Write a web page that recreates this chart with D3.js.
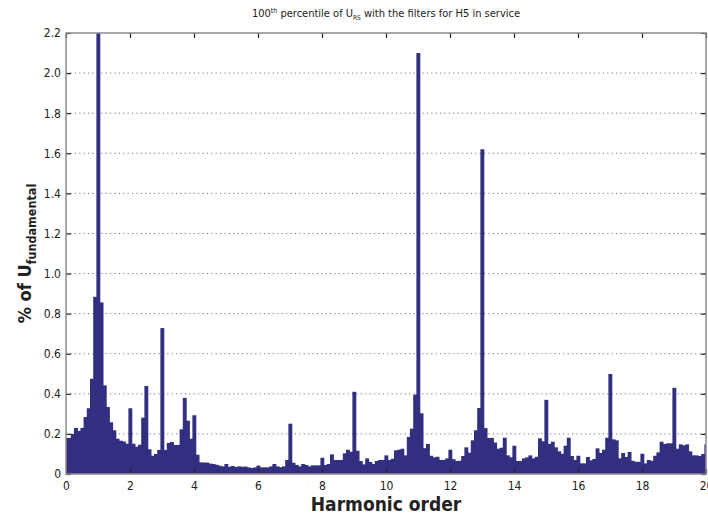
<!DOCTYPE html>
<html>
<head>
<meta charset="utf-8">
<script src="https://cdn.jsdelivr.net/npm/d3@7"></script>
<style>
  body { margin: 0; background: #fff; }
  text { font-family: "Liberation Sans Narrow", "DejaVu Sans Condensed", sans-serif; }
</style>
</head>
<body>
<div id="chartContainer"></div>
<script>
// bar values, one per 0.1 harmonic order, from 0.0 to 20.0
let percent_values = [
  0.18, 0.18, 0.2, 0.23, 0.215, 0.23, 0.284, 0.328, 0.475, 0.884,
  2.2, 0.856, 0.442, 0.334, 0.258, 0.218, 0.176, 0.166, 0.162, 0.151,
  0.328, 0.151, 0.136, 0.146, 0.281, 0.439, 0.123, 0.091, 0.1, 0.12,
  0.728, 0.12, 0.155, 0.16, 0.145, 0.145, 0.223, 0.38, 0.266, 0.176,
  0.293, 0.096, 0.058, 0.057, 0.057, 0.052, 0.05, 0.046, 0.041, 0.038,
  0.05, 0.036, 0.04, 0.035, 0.038, 0.036, 0.037, 0.033, 0.03, 0.033,
  0.042, 0.033, 0.033, 0.033, 0.038, 0.05, 0.038, 0.034, 0.038, 0.07,
  0.251, 0.056, 0.045, 0.038, 0.05, 0.045, 0.038, 0.043, 0.043, 0.043,
  0.081, 0.045, 0.05, 0.098, 0.07, 0.07, 0.07, 0.103, 0.121, 0.111,
  0.41, 0.116, 0.065, 0.048, 0.078, 0.06, 0.05, 0.065, 0.07, 0.07,
  0.093, 0.07, 0.076, 0.118, 0.121, 0.126, 0.093, 0.185, 0.226, 0.396,
  2.1, 0.303, 0.129, 0.15, 0.091, 0.083, 0.086, 0.07, 0.07, 0.078,
  0.121, 0.074, 0.065, 0.066, 0.09, 0.133, 0.106, 0.168, 0.218, 0.329,
  1.62, 0.229, 0.18, 0.18, 0.157, 0.126, 0.131, 0.181, 0.093, 0.083,
  0.141, 0.065, 0.065, 0.078, 0.083, 0.093, 0.078, 0.086, 0.178, 0.163,
  0.37, 0.15, 0.161, 0.133, 0.113, 0.101, 0.141, 0.181, 0.09, 0.07,
  0.091, 0.053, 0.053, 0.085, 0.068, 0.075, 0.128, 0.105, 0.121, 0.181,
  0.499, 0.173, 0.168, 0.078, 0.105, 0.085, 0.11, 0.066, 0.061, 0.061,
  0.101, 0.053, 0.07, 0.066, 0.091, 0.108, 0.161, 0.15, 0.153, 0.153,
  0.43, 0.126, 0.148, 0.143, 0.148, 0.113, 0.093, 0.093, 0.09, 0.1,
  0.148
];
let BIN_WIDTH = 0.1; // harmonic order step between bars
let x_ticks = [0, 2, 4, 6, 8, 10, 12, 14, 16, 18, 20];
let y_ticks = [0, 0.2, 0.4, 0.6, 0.8, 1.0, 1.2, 1.4, 1.6, 1.8, 2.0, 2.2];

// chart properties
let BOX_WIDTH = 708;
let BOX_HEIGHT = 519;
let LEFT = 66, RIGHT = 706, TOP = 33, BOTTOM = 474;
let BAR_COLOR = "#332f80";
let FRAME_COLOR = "#8c8c8c";

const bars_data = percent_values.map((v, i) => ({ x: i * BIN_WIDTH, y: v }));

const svg = d3.select("#chartContainer")
    .append("svg")
    .attr("width", BOX_WIDTH)
    .attr("height", BOX_HEIGHT);

const xScale = d3.scaleLinear().domain([0, 20]).range([LEFT, RIGHT]);
const yScale = d3.scaleLinear().domain([0, 2.2]).range([BOTTOM, TOP]);

// clip so the half bars at 0 and 20 stay inside
svg.append("clipPath").attr("id", "plotClip")
    .append("rect")
    .attr("x", LEFT).attr("y", TOP)
    .attr("width", RIGHT - LEFT).attr("height", BOTTOM - TOP);

// dotted horizontal grid
svg.append("g")
    .selectAll("line")
    .data(y_ticks.slice(1, -1))
    .join("line")
    .attr("x1", LEFT).attr("x2", RIGHT)
    .attr("y1", d => yScale(d)).attr("y2", d => yScale(d))
    .attr("stroke", "#777")
    .attr("stroke-width", 1)
    .attr("stroke-dasharray", "1.2,3.2");

// bars
const bw = xScale(BIN_WIDTH) - xScale(0);
svg.append("g")
    .attr("clip-path", "url(#plotClip)")
    .selectAll("rect")
    .data(bars_data)
    .join("rect")
    .attr("x", d => xScale(d.x) - bw / 2)
    .attr("y", d => yScale(d.y))
    .attr("width", bw + 0.7)
    .attr("height", d => yScale(0) - yScale(d.y))
    .attr("fill", BAR_COLOR);

// axes, ticks pointing inward
const xAxis = d3.axisBottom(xScale).tickValues(x_ticks).tickSizeInner(-5).tickSizeOuter(0).tickPadding(7)
    .tickFormat(d3.format("d"));
const yAxis = d3.axisLeft(yScale).tickValues(y_ticks).tickSizeInner(-5).tickSizeOuter(0).tickPadding(5)
    .tickFormat(d => d === 0 ? "0" : d3.format(".1f")(d));

const gx = svg.append("g").attr("transform", `translate(0, ${BOTTOM})`).call(xAxis);
const gy = svg.append("g").attr("transform", `translate(${LEFT}, 0)`).call(yAxis);

svg.append("g").attr("transform", `translate(0, ${TOP})`)
    .call(d3.axisTop(xScale).tickValues(x_ticks).tickSizeInner(-5).tickSizeOuter(0).tickFormat(""));
svg.append("g").attr("transform", `translate(${RIGHT}, 0)`)
    .call(d3.axisRight(yScale).tickValues(y_ticks).tickSizeInner(-5).tickSizeOuter(0).tickFormat(""));

svg.selectAll(".domain").remove();
svg.selectAll(".tick line").attr("stroke", "#222").attr("stroke-width", 1.2);
svg.selectAll(".tick text")
    .attr("font-size", 12)
    .attr("fill", "#222")
    .style("font-family", "'Liberation Sans Narrow', 'DejaVu Sans Condensed', sans-serif");

// frame
svg.append("rect")
    .attr("x", LEFT).attr("y", TOP)
    .attr("width", RIGHT - LEFT).attr("height", BOTTOM - TOP)
    .attr("fill", "none")
    .attr("stroke", FRAME_COLOR)
    .attr("stroke-width", 1.5);

// title
const title = svg.append("text")
    .attr("x", (LEFT + RIGHT) / 2)
    .attr("y", 17)
    .attr("text-anchor", "middle")
    .attr("font-size", 11)
    .attr("fill", "#222");
title.append("tspan").text("100");
title.append("tspan").attr("font-size", 7).attr("dy", -4).text("th");
title.append("tspan").attr("dy", 4).text(" percentile of U");
title.append("tspan").attr("font-size", 6.5).attr("dy", 3).text("RS");
title.append("tspan").attr("dy", -3).text(" with the filters for H5 in service");

// x label
svg.append("text")
    .attr("x", (LEFT + RIGHT) / 2)
    .attr("y", 511)
    .attr("text-anchor", "middle")
    .attr("font-size", 19)
    .attr("font-weight", "bold")
    .attr("fill", "#222")
    .text("Harmonic order");

// y label
const ylab = svg.append("text")
    .attr("transform", `translate(31, ${(TOP + BOTTOM) / 2}) rotate(-90)`)
    .attr("text-anchor", "middle")
    .attr("font-size", 18)
    .attr("font-weight", "bold")
    .attr("fill", "#222");
ylab.append("tspan").text("% of U");
ylab.append("tspan").attr("font-size", 12.5).attr("dy", 5).text("fundamental");
</script>
</body>
</html>
